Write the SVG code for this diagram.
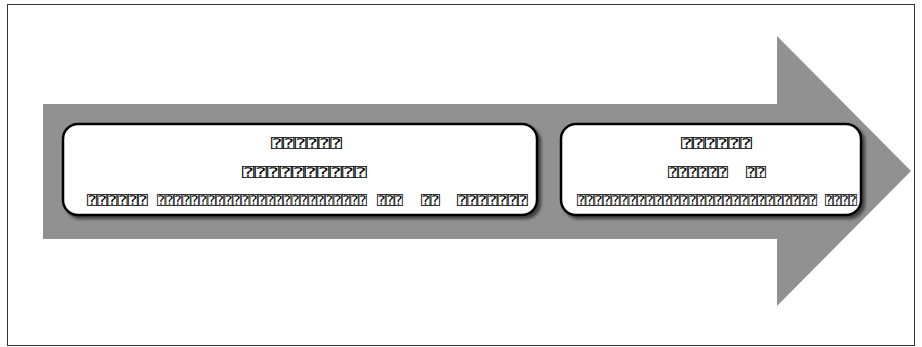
<svg xmlns="http://www.w3.org/2000/svg" width="922" height="347" viewBox="0 0 922 347">
<defs>
<style>
.frame{fill:#fff;stroke:#333;stroke-width:1}
.arrow{fill:#919191}
.box{fill:#fff;stroke:#000;stroke-width:2.5}
.t{font-family:"DejaVu Sans Mono","DejaVu Sans",sans-serif;font-size:13px;fill:#000}
</style>
<filter id="sh" x="-5%" y="-10%" width="115%" height="130%">
<feDropShadow dx="3" dy="3" stdDeviation="1.6" flood-color="#000" flood-opacity="0.55"/>
</filter>
</defs>
<rect class="frame" x="7.5" y="4.5" width="907" height="341"/>
<g id="arrow">
<polygon class="arrow" points="43,104 777,104 777,36 911,171 777,306 777,239 43,239"/>
</g>
<g id="connectors"/>
<g id="node1">
<rect class="box" x="63" y="124" width="474" height="91" rx="15" ry="15" filter="url(#sh)"/>
<text class="t" x="271" y="148" textLength="71" lengthAdjust="spacingAndGlyphs">⍰⍰⍰⍰⍰⍰</text>
<text class="t" x="242" y="177" textLength="125" lengthAdjust="spacingAndGlyphs">⍰⍰⍰⍰⍰⍰⍰⍰⍰⍰</text>
<text class="t" x="87" y="205" textLength="61" lengthAdjust="spacingAndGlyphs">⍰⍰⍰⍰⍰⍰</text>
<text class="t" x="157" y="205" textLength="210" lengthAdjust="spacingAndGlyphs">⍰⍰⍰⍰⍰⍰⍰⍰⍰⍰⍰⍰⍰⍰⍰⍰⍰⍰⍰⍰⍰⍰⍰⍰⍰</text>
<text class="t" x="377" y="205" textLength="26" lengthAdjust="spacingAndGlyphs">⍰⍰⍰</text>
<text class="t" x="421" y="205" textLength="19" lengthAdjust="spacingAndGlyphs">⍰⍰</text>
<text class="t" x="457" y="205" textLength="71" lengthAdjust="spacingAndGlyphs">⍰⍰⍰⍰⍰⍰⍰</text>
</g>
<g id="node2">
<rect class="box" x="561" y="124" width="300" height="91" rx="15" ry="15" filter="url(#sh)"/>
<text class="t" x="681" y="148" textLength="71" lengthAdjust="spacingAndGlyphs">⍰⍰⍰⍰⍰⍰</text>
<text class="t" x="668" y="177" textLength="60" lengthAdjust="spacingAndGlyphs">⍰⍰⍰⍰⍰⍰</text>
<text class="t" x="746" y="177" textLength="20" lengthAdjust="spacingAndGlyphs">⍰⍰</text>
<text class="t" x="577" y="205" textLength="240" lengthAdjust="spacingAndGlyphs">⍰⍰⍰⍰⍰⍰⍰⍰⍰⍰⍰⍰⍰⍰⍰⍰⍰⍰⍰⍰⍰⍰⍰⍰⍰⍰⍰⍰</text>
<text class="t" x="825" y="205" textLength="32" lengthAdjust="spacingAndGlyphs">⍰⍰⍰⍰</text>
</g>
</svg>
